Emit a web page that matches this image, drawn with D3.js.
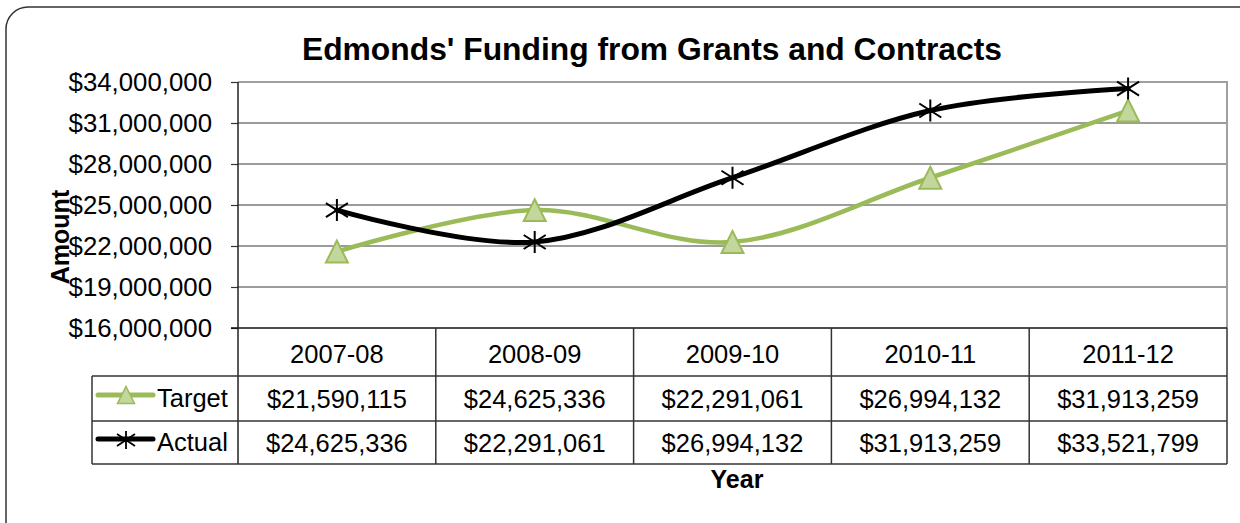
<!DOCTYPE html>
<html>
<head>
<meta charset="utf-8">
<script src="https://cdn.jsdelivr.net/npm/d3@7"></script>
<style>
  html, body { margin: 0; padding: 0; background: #fff; }
  svg { display: block; font-family: "Liberation Sans", Arial, sans-serif; }
</style>
</head>
<body>
<svg id="chart" width="1240" height="523"></svg>
<script>
const title = "Edmonds' Funding from Grants and Contracts";
const categories = ["2007-08", "2008-09", "2009-10", "2010-11", "2011-12"];
const seriesNames = ["Target", "Actual"];
const targetValues = [21590115, 24625336, 22291061, 26994132, 31913259];
const actualValues = [24625336, 22291061, 26994132, 31913259, 33521799];
const yTicks = [16000000, 19000000, 22000000, 25000000, 28000000, 31000000, 34000000];
const xTitle = "Year";
const yTitle = "Amount";

const svg = d3.select("#chart");
const W = 1240, H = 523;
const plot = { left: 238, right: 1227, top: 82, bottom: 328 };
const rowTops = [376, 421, 464];
const tableLeft = 92;
const green = "#9bbb59", greenFill = "#c3d69b";
const fmt = d3.format("$,");

// frame
svg.append("rect").attr("x", 6).attr("y", 7).attr("width", 1260).attr("height", 540)
  .attr("rx", 22).attr("ry", 22).attr("fill", "#fff").attr("stroke", "#333").attr("stroke-width", 1.5);

const x = d3.scaleBand().domain(categories).range([plot.left, plot.right]);
const y = d3.scaleLinear().domain([d3.min(yTicks), d3.max(yTicks)]).range([plot.bottom, plot.top]);

// gridlines
svg.append("g").selectAll("line").data(yTicks.filter(t => t !== d3.min(yTicks) && t !== d3.max(yTicks)))
  .join("line").attr("x1", plot.left).attr("x2", plot.right)
  .attr("y1", d => y(d)).attr("y2", d => y(d)).attr("stroke", "#3a3a3a").attr("stroke-width", 1.2);

// plot top & right border (gray)
svg.append("path").attr("d", `M${plot.left},${y(d3.max(yTicks))}H${plot.right}V${plot.bottom}`)
  .attr("fill", "none").attr("stroke", "#a0a0a0").attr("stroke-width", 2);

// y axis
const yAxis = d3.axisLeft(y).tickValues(yTicks).tickFormat(fmt).tickSize(7).tickPadding(19);
const gy = svg.append("g").attr("transform", `translate(${plot.left},0)`).call(yAxis);
gy.select(".domain").remove();
gy.selectAll(".tick line").attr("stroke", "#333").attr("stroke-width", 1.2);
gy.selectAll(".tick text").attr("font-size", 25.8).attr("fill", "#000")
  .attr("font-family", "'Liberation Sans', Arial, sans-serif").attr("dy", "0.34em");

// table
const tg = svg.append("g");
const tableStroke = "#333";
// bottom axis line
tg.append("line").attr("x1", plot.left - 7).attr("x2", plot.right).attr("y1", plot.bottom).attr("y2", plot.bottom)
  .attr("stroke", "#111").attr("stroke-width", 1.5);
// left axis line through table
tg.append("line").attr("x1", plot.left).attr("x2", plot.left).attr("y1", plot.top).attr("y2", rowTops[2])
  .attr("stroke", "#222").attr("stroke-width", 1.5);
// right border in table
tg.append("line").attr("x1", plot.right).attr("x2", plot.right).attr("y1", plot.bottom).attr("y2", rowTops[2])
  .attr("stroke", tableStroke).attr("stroke-width", 1.5);
// column dividers
tg.selectAll("line.col").data(categories.slice(1)).join("line").attr("class", "col")
  .attr("x1", d => x(d)).attr("x2", d => x(d)).attr("y1", plot.bottom).attr("y2", rowTops[2])
  .attr("stroke", tableStroke).attr("stroke-width", 1.5);
// row lines
tg.selectAll("line.row").data(rowTops).join("line").attr("class", "row")
  .attr("x1", tableLeft).attr("x2", plot.right).attr("y1", d => d).attr("y2", d => d)
  .attr("stroke", tableStroke).attr("stroke-width", 1.5);
tg.append("line").attr("x1", tableLeft).attr("x2", tableLeft).attr("y1", rowTops[0]).attr("y2", rowTops[2])
  .attr("stroke", tableStroke).attr("stroke-width", 1.5);

// header labels
tg.selectAll("text.cat").data(categories).join("text").attr("class", "cat")
  .attr("x", d => x(d) + x.bandwidth() / 2).attr("y", 363).attr("text-anchor", "middle")
  .attr("font-size", 25.5).text(d => d);

const rows = [
  { name: seriesNames[0], values: targetValues, base: 408 },
  { name: seriesNames[1], values: actualValues, base: 452 }
];
rows.forEach(r => {
  tg.append("g").selectAll("text").data(r.values).join("text")
    .attr("x", (d, i) => x(categories[i]) + x.bandwidth() / 2).attr("y", r.base)
    .attr("text-anchor", "middle").attr("font-size", 25.5).text(d => fmt(d));
  tg.append("text").attr("x", 157).attr("y", r.base - 1).attr("font-size", 25.5).text(r.name);
});

// markers
const triPath = s => `M0,${-s}L${s},${s}L${-s},${s}Z`;
const starPath = (s, h) => `M0,${-s}V${s}M${-s},${-h}L${s},${h}M${-s},${h}L${s},${-h}`;

// legend keys
svg.append("line").attr("x1", 98).attr("x2", 153).attr("y1", 395).attr("y2", 395)
  .attr("stroke", green).attr("stroke-width", 5).attr("stroke-linecap", "round");
svg.append("path").attr("d", triPath(8.5)).attr("transform", "translate(126,395)")
  .attr("fill", greenFill).attr("stroke", green).attr("stroke-width", 1.5);
svg.append("line").attr("x1", 98).attr("x2", 153).attr("y1", 439).attr("y2", 439)
  .attr("stroke", "#000").attr("stroke-width", 5).attr("stroke-linecap", "round");
svg.append("path").attr("d", starPath(9, 6)).attr("transform", "translate(126,440)")
  .attr("fill", "none").attr("stroke", "#000").attr("stroke-width", 1.8);

// lines
const line = d3.line().x((d, i) => x(categories[i]) + x.bandwidth() / 2).y(d => y(d))
  .curve(d3.curveCardinal.tension(0));
svg.append("path").datum(targetValues).attr("d", line).attr("fill", "none")
  .attr("stroke", green).attr("stroke-width", 4.5).attr("stroke-linecap", "round");
svg.append("path").datum(actualValues).attr("d", line).attr("fill", "none")
  .attr("stroke", "#000").attr("stroke-width", 5).attr("stroke-linecap", "round");

svg.append("g").selectAll("path").data(targetValues).join("path")
  .attr("d", triPath(11))
  .attr("transform", (d, i) => `translate(${x(categories[i]) + x.bandwidth() / 2},${y(d)})`)
  .attr("fill", greenFill).attr("stroke", green).attr("stroke-width", 2);
svg.append("g").selectAll("path").data(actualValues).join("path")
  .attr("d", starPath(11, 7))
  .attr("transform", (d, i) => `translate(${x(categories[i]) + x.bandwidth() / 2},${y(d)})`)
  .attr("fill", "none").attr("stroke", "#000").attr("stroke-width", 2);

// titles
svg.append("text").attr("x", 652).attr("y", 60).attr("text-anchor", "middle")
  .attr("font-size", 31.8).attr("font-weight", "bold").text(title);
svg.append("text").attr("x", 737).attr("y", 488).attr("text-anchor", "middle")
  .attr("font-size", 25).attr("font-weight", "bold").text(xTitle);
svg.append("text").attr("transform", "translate(69,237) rotate(-90)").attr("text-anchor", "middle")
  .attr("font-size", 25).attr("font-weight", "bold").text(yTitle);
</script>
</body>
</html>
